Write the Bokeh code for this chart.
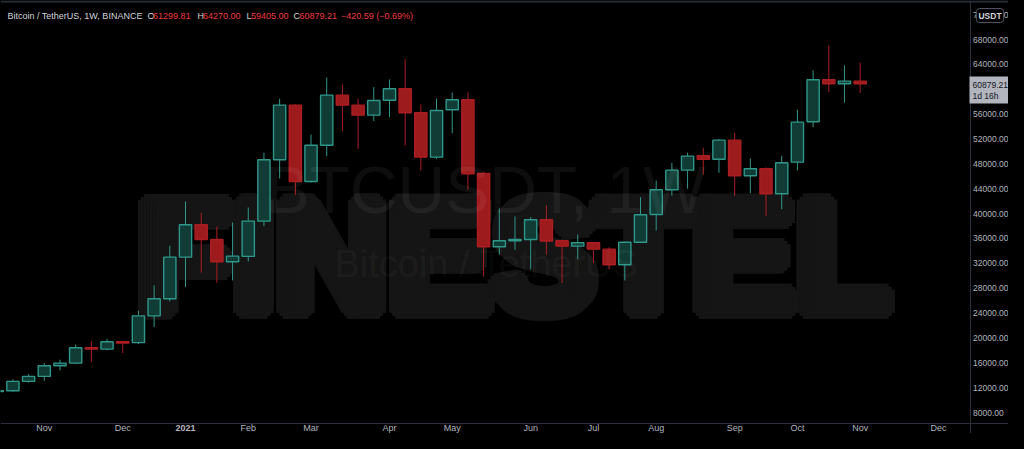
from bokeh.plotting import figure
from bokeh.models import Range1d, Label, ColumnDataSource, Span
from bokeh.embed import file_html
from bokeh.resources import INLINE
from bokeh.core.properties import value

# ---------------- data (BTCUSDT weekly, Binance) ----------------
week_start = ["2020-10-12", "2020-10-19", "2020-10-26", "2020-11-02", "2020-11-09", "2020-11-16",
              "2020-11-23", "2020-11-30", "2020-12-07", "2020-12-14", "2020-12-21", "2020-12-28",
              "2021-01-04", "2021-01-11", "2021-01-18", "2021-01-25", "2021-02-01", "2021-02-08",
              "2021-02-15", "2021-02-22", "2021-03-01", "2021-03-08", "2021-03-15", "2021-03-22",
              "2021-03-29", "2021-04-05", "2021-04-12", "2021-04-19", "2021-04-26", "2021-05-03",
              "2021-05-10", "2021-05-17", "2021-05-24", "2021-05-31", "2021-06-07", "2021-06-14",
              "2021-06-21", "2021-06-28", "2021-07-05", "2021-07-12", "2021-07-19", "2021-07-26",
              "2021-08-02", "2021-08-09", "2021-08-16", "2021-08-23", "2021-08-30", "2021-09-06",
              "2021-09-13", "2021-09-20", "2021-09-27", "2021-10-04", "2021-10-11", "2021-10-18",
              "2021-10-25", "2021-11-01"]

opens = [11370, 11500, 13010, 13810, 15530, 15950, 18420, 18200, 19390, 19250, 23550, 26310,
         33000, 38200, 35840, 32260, 33110, 38780, 48650, 57440, 45170, 51000, 59050, 57440,
         55830, 58240, 60070, 56210, 49080, 56700, 58300, 46450, 34660, 35630, 35840, 39010,
         35630, 34760, 35310, 34280, 31770, 35400, 39860, 43830, 46990, 49300, 48750, 51810,
         46080, 47210, 43190, 48270, 54770, 61520, 60880, 61299.81]

highs = [11730, 13330, 14180, 15950, 16490, 18960, 19490, 19870, 19420, 24370, 28440, 34830,
         41950, 40130, 37930, 38570, 40990, 49780, 58460, 57600, 52720, 61890, 60760, 58510,
         60330, 61570, 64850, 57550, 58510, 59480, 59530, 46730, 40820, 39540, 39430, 41360,
         35790, 36640, 35400, 34600, 35400, 42650, 45330, 48170, 49780, 50590, 51970, 53000,
         48870, 47420, 49300, 56700, 63020, 67080, 63820, 64270.00]

lows = [11250, 11350, 12800, 13120, 14780, 15850, 16110, 17990, 17560, 19000, 21740, 25870,
        28170, 30490, 28880, 29250, 32300, 37980, 45650, 42970, 44960, 49240, 53260, 50420,
        54870, 55510, 50960, 46930, 48760, 52930, 43830, 29890, 33380, 34180, 31070, 33380,
        28820, 32670, 32030, 31070, 29250, 35250, 37290, 42870, 43990, 46240, 46560, 42870,
        43290, 39590, 40720, 46940, 53900, 59530, 57870, 59405.00]

closes = [11500, 13010, 13810, 15530, 15950, 18420, 18200, 19390, 19170, 23550, 26310, 33000,
          38200, 35840, 32260, 33150, 38790, 48650, 57440, 45170, 51000, 59050, 57440, 55830,
          58190, 60070, 56210, 49080, 56580, 58300, 46400, 34660, 35630, 35840, 39010, 35570,
          34760, 35310, 34280, 31770, 35400, 39810, 43830, 46990, 49240, 48750, 51810, 46080,
          47210, 43190, 48170, 54710, 61520, 60880, 61299.80, 60879.21]

# time-axis ticks (week index of first bar of each month) and labels
month_tick_index = [3, 8, 12, 16, 20, 25, 29, 34, 38, 42, 47, 51, 55, 60]
month_tick_labels = ["Nov", "Dec", "2021", "Feb", "Mar", "Apr", "May", "Jun", "Jul", "Aug",
                     "Sep", "Oct", "Nov", "Dec"]

price_ticks = [8000, 12000, 16000, 20000, 24000, 28000, 32000, 36000, 40000, 44000, 48000,
               52000, 56000, 60000, 64000, 68000, 72000]
price_tick_labels = ["8000.00", "12000.00", "16000.00", "20000.00", "24000.00", "28000.00",
                     "32000.00", "36000.00", "40000.00", "44000.00", "48000.00", "52000.00",
                     "56000.00", "60000.00", "64000.00", "68000.00", "72000.00"]

symbol_title = "Bitcoin / TetherUS, 1W, BINANCE"
time_left = "1d 16h"
watermark_brand = "FINESTEL"
watermark_symbol = "BTCUSDT, 1W"
watermark_desc = "Bitcoin / TetherUS"

# ---------------- layout / style ----------------
BG = "#000000"
TXT = "#d1d4dc"
AXIS_TXT = "#b2b5be"
RED_TXT = "#ef3b3f"
UP_LINE = "#2f978a"
UP_FILL = "#113c35"
DN_FILL = "#9e1b1d"
DN_LINE = "#aa1e22"
SEP = "#2a2e39"
BRAND = "#151515"
FONT = "Liberation Sans"

W, H = 1008, 433
BAR_PX = 15.69           # pixels per weekly bar
PRICE_PER_PX = 160.84    # price units per pixel
REF_BAR_IDX, REF_BAR_PX = 12, 185      # bar 12 (2021-01-04) sits at x = 185 px
REF_PRICE, REF_PRICE_PX = 68000, 39    # 68000 sits at y = 39 px


def dx(px):
    return REF_BAR_IDX + (px - REF_BAR_PX) / BAR_PX


def dy(py):
    return REF_PRICE - (py - REF_PRICE_PX) * PRICE_PER_PX


p = figure(width=W, height=H, x_range=Range1d(dx(0), dx(W)), y_range=Range1d(dy(H), dy(0)),
           output_backend="svg", toolbar_location=None,
           x_axis_location=None, y_axis_location=None,
           background_fill_color=BG, border_fill_color=BG, outline_line_color=None,
           min_border=0)
p.xgrid.visible = False
p.ygrid.visible = False

# ---------------- heavy brand watermark (stacked copies give the black weight) ----------------
steps = (-9, -6, -3, 0, 3, 6, 9)
offs = [(ox, oy) for ox in steps for oy in steps if ox * ox + oy * oy <= 90]
wsrc = ColumnDataSource(dict(x=[dx(513)] * len(offs), y=[dy(255)] * len(offs),
                             text=[watermark_brand] * len(offs),
                             xo=[o[0] for o in offs], yo=[o[1] for o in offs]))
p.text(x="x", y="y", text="text", x_offset="xo", y_offset="yo", source=wsrc,
       text_align="center", text_baseline="middle", text_font=value(FONT),
       text_font_style="bold", text_font_size=value("156px"), text_color=BRAND)

# ---------------- pane separators ----------------
AXIS_X = 970       # price-scale separator
AXIS_Y = 423       # time-scale separator
p.add_layout(Span(location=dx(AXIS_X), dimension="height", line_color=SEP, line_width=1))
p.add_layout(Span(location=dy(AXIS_Y), dimension="width", line_color=SEP, line_width=1))
p.add_layout(Span(location=dy(1), dimension="width", line_color=SEP, line_width=2))

# ---------------- candles ----------------
idx = list(range(len(closes)))
up = [c >= o for o, c in zip(opens, closes)]
src = ColumnDataSource(dict(
    x=idx, date=week_start, open=opens, high=highs, low=lows, close=closes,
    top=[max(o, c) for o, c in zip(opens, closes)],
    bottom=[min(o, c) for o, c in zip(opens, closes)],
    line=[UP_LINE if u else DN_LINE for u in up],
    fill=[UP_FILL if u else DN_FILL for u in up],
))
p.segment(x0="x", y0="high", x1="x", y1="low", line_color="line", line_width=1, source=src)
p.vbar(x="x", width=0.78, top="top", bottom="bottom", fill_color="fill", line_color="line",
       line_width=1.4, source=src)

# ---------------- price scale labels ----------------
ysrc = ColumnDataSource(dict(x=[dx(AXIS_X + 2.5)] * len(price_ticks), y=price_ticks,
                             text=price_tick_labels))
p.text(x="x", y="y", text="text", source=ysrc, text_align="left", text_baseline="middle",
       text_font=value(FONT), text_font_size=value("8.5px"), text_color=AXIS_TXT)

# ---------------- time scale labels ----------------
xsrc = ColumnDataSource(dict(x=month_tick_index, y=[dy(427.8)] * len(month_tick_index),
                             text=month_tick_labels,
                             style=["bold" if l.isdigit() else "normal" for l in month_tick_labels]))
p.text(x="x", y="y", text="text", source=xsrc, text_align="center", text_baseline="middle",
       text_font=value(FONT), text_font_size=value("9px"), text_font_style="style",
       text_color=AXIS_TXT)

# ---------------- symbol watermarks (faint overlay) ----------------
p.add_layout(Label(x=dx(485), y=dy(189.5), text=watermark_symbol, text_align="center",
                   text_baseline="middle", text_font=FONT,
                   text_font_size="66px", text_color="#ffffff", text_alpha=0.055))
p.add_layout(Label(x=dx(486), y=dy(263), text=watermark_desc, text_align="center",
                   text_baseline="middle", text_font=FONT,
                   text_font_size="38px", text_color="#ffffff", text_alpha=0.055))

# ---------------- header legend ----------------
last_o, last_h, last_l, last_c = opens[-1], highs[-1], lows[-1], closes[-1]
chg = last_c - closes[-2]
pct = chg / closes[-2] * 100
pieces = [
    (symbol_title, 7, TXT),
    ("O", 147, TXT), (f"{last_o:.2f}", 152.5, RED_TXT),
    ("H", 197, TXT), (f"{last_h:.2f}", 202.5, RED_TXT),
    ("L", 246, TXT), (f"{last_l:.2f}", 250.5, RED_TXT),
    ("C", 293, TXT), (f"{last_c:.2f}", 299, RED_TXT),
    (f"\u2212{abs(chg):.2f} (\u2212{abs(pct):.2f}%)", 340.5, RED_TXT),
]
for txt, px, col in pieces:
    p.add_layout(Label(x=dx(px), y=dy(15.5), text=txt, text_align="left",
                       text_baseline="middle", text_font=FONT,
                       text_font_size="9px", text_color=col))

# ---------------- price-scale badges ----------------
p.add_layout(Label(x=dx(989.5), y=dy(15), text="USDT", text_align="center",
                   text_baseline="middle", text_font=FONT, text_font_style="bold",
                   text_font_size="8.5px", text_color=TXT, background_fill_color=BG,
                   border_line_color="#50535e", border_line_width=1, border_radius=3,
                   padding=2))
p.add_layout(Label(x=dx(AXIS_X - 1), y=dy(76), text=f"{last_c:.2f}\n{time_left}",
                   text_align="left", text_baseline="top", text_font=FONT,
                   text_font_size="8.5px", text_color="#131722", text_line_height=1.1,
                   background_fill_color="#b2b5be",
                   padding=dict(left=3, right=4, top=3, bottom=3)))

html = file_html(p, INLINE)
html = html.replace("<head>", "<head><style>html, body {background: #000000;}</style>", 1)
open("out.html", "w").write(html)
